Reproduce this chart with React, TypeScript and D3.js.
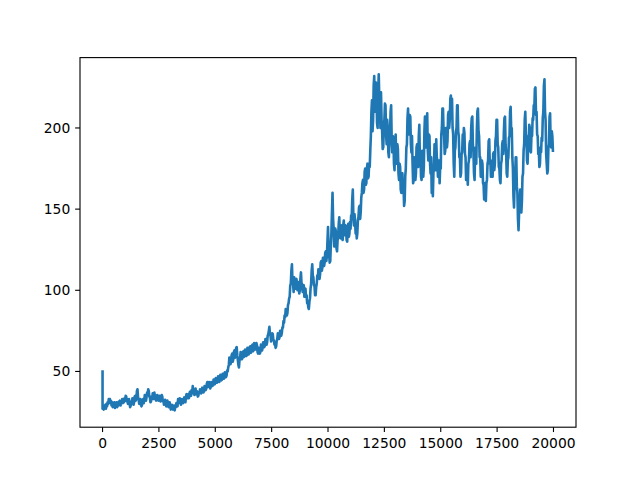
import React from "react";
import * as d3 from "d3";

const STEP = 25;
const LAST_INDEX = 19999;
const startValue = 50;
const xTicks = [0, 2500, 5000, 7500, 10000, 12500, 15000, 17500, 20000];
const yTicks = [50, 100, 150, 200];

const chunk00 = [27, 29, 26.5, 28.5, 27.5, 29.5, 27, 30, 28.5, 31, 30, 33, 31, 33, 30.5, 32, 29, 31, 28, 30.5, 29, 31, 27.5, 29.5, 28.5, 31, 28, 30.5, 29, 31.5, 30, 32, 29, 31.5, 30.5, 33, 30.5, 32.5, 31, 33.5];
const chunk01 = [32, 35, 34.5, 31.5, 33, 30, 31, 33, 30, 28, 29, 31.5, 30.5, 33.5, 32, 29.5, 31, 34.5, 35, 32, 33, 38, 39, 34, 33, 30, 30, 33, 31.5, 28.5, 29.5, 32.5, 33, 30.5, 32, 35.5, 35, 32, 34, 37];
const chunk02 = [36, 39, 38, 34.5, 34, 31, 31.5, 34.5, 33, 36.5, 35.5, 33, 37, 34, 35, 32, 33, 35.5, 34.5, 32, 32.5, 35, 34, 31.5, 33, 35.5, 34.5, 31.5, 32, 29.5, 30.5, 32.5, 31, 28.5, 29.5, 32, 30.5, 28, 29, 31];
const chunk03 = [28.5, 26.5, 27.5, 29.5, 28.5, 26.5, 27, 29, 26, 28.5, 28, 30.5, 30.5, 28.5, 33, 30.5, 31, 33.5, 32, 29.5, 30.5, 33, 32.5, 30.5, 31.5, 34, 33, 31, 34.5, 36, 33.5, 35.5, 36, 33.5, 34.5, 37.5, 37, 35, 38.5, 36.5];
const chunk04 = [41, 38, 38, 35.5, 37.5, 39.5, 36, 38, 37, 34.5, 35, 37.5, 36.5, 39, 38.5, 36.5, 37.5, 40, 39.5, 37, 38, 41, 40.5, 38.5, 39.5, 42.5, 43.5, 40.5, 41, 43.5, 42, 39.5, 40.5, 43.5, 43, 41, 42, 45, 45, 42];
const chunk05 = [43, 46, 45.5, 43, 44, 47, 46, 43.5, 44.5, 48, 47, 44.5, 45, 48.5, 48.5, 45.5, 46, 49.5, 49, 46.5, 47.5, 50.5, 50, 52.5, 54, 58.5, 58, 54.5, 56, 60, 61, 56, 57.5, 62, 63, 58.5, 60, 64.5, 65, 60];
const chunk06 = [57, 54, 52.5, 57, 58, 62, 61, 57.5, 58, 62, 62.5, 59, 59.5, 63.5, 63, 59.5, 60, 64.5, 64, 60.5, 61, 65, 65.5, 61.5, 62, 66, 66.5, 62.5, 63, 67.5, 67, 63.5, 64, 67.5, 66, 62, 61, 64.5, 64, 61];
const chunk07 = [62, 66.5, 66, 63, 64.5, 68, 68, 65, 66, 70, 70, 66.5, 68, 72, 73, 75, 77.5, 73, 72, 68.5, 70, 73.5, 73, 69.5, 69, 66.5, 67, 64.5, 65.5, 69, 70, 73.5, 73, 70, 71, 75, 75, 72, 73.5, 77];
const chunk08 = [77, 81, 80, 84.5, 83.5, 88.5, 88, 84.5, 86, 91, 92, 95, 96, 103, 104, 112, 116, 105, 104, 99, 108, 102, 101, 106, 107, 101, 100, 105, 105, 98, 100, 107, 111, 104, 104, 99, 99, 103, 96, 100];
const chunk09 = [101, 96, 97, 92, 93, 89.5, 88.5, 93, 95, 101, 104, 112, 116, 109, 108, 103, 103, 97, 97, 102, 104, 109, 108, 113, 112, 107, 110, 117, 118, 112, 114, 120, 120, 115, 117, 123, 124, 118, 121, 130];
const chunk10 = [139, 126, 122, 117, 118, 128, 135, 148, 160, 144, 138, 127, 128, 138, 136, 126, 124, 131, 133, 141, 145, 134, 132, 139, 140, 132, 131, 140, 143, 134, 134, 140, 139, 131, 130, 138, 141, 133, 135, 142];
const chunk11 = [138, 146, 144, 156, 162, 145, 140, 147, 143, 135, 138, 132, 135, 143, 145, 151, 152, 144, 148, 157, 160, 166, 168, 160, 162, 173, 175, 165, 166, 175, 178, 169, 170, 178, 176, 186, 195, 210, 217, 198];
const chunk12 = [205, 226, 232, 212, 210, 228, 220, 203, 200, 222, 233, 218, 215, 200, 222, 205, 198, 187, 188, 200, 205, 215, 214, 196, 190, 205, 200, 185, 182, 194, 196, 210, 214, 192, 185, 195, 194, 178, 174, 190];
const chunk13 = [196, 182, 178, 190, 187, 172, 168, 178, 176, 162, 160, 172, 172, 160, 163, 152, 155, 170, 175, 188, 190, 206, 212, 196, 198, 208, 207, 190, 185, 195, 178, 166, 168, 182, 180, 168, 172, 188, 190, 176];
const chunk14 = [176, 195, 202, 180, 185, 170, 168, 186, 182, 170, 176, 198, 207, 190, 188, 204, 209, 186, 180, 196, 195, 178, 172, 182, 160, 172, 158, 172, 178, 190, 186, 174, 193, 182, 180, 170, 170, 180, 166, 176];
const chunk15 = [175, 196, 200, 212, 212, 198, 195, 184, 186, 200, 200, 188, 192, 208, 210, 200, 205, 218, 220, 210, 218, 200, 196, 178, 170, 186, 188, 198, 200, 214, 214, 198, 195, 182, 182, 170, 172, 184, 185, 196];
const chunk16 = [190, 200, 197, 184, 182, 168, 170, 176, 165, 178, 180, 190, 192, 182, 200, 206, 207, 190, 185, 172, 168, 184, 188, 178, 198, 210, 212, 198, 195, 182, 182, 170, 170, 180, 178, 166, 165, 156, 158, 166];
const chunk17 = [155, 166, 168, 178, 180, 192, 193, 178, 180, 170, 172, 180, 170, 184, 185, 174, 178, 192, 195, 205, 205, 190, 188, 176, 175, 168, 166, 178, 180, 190, 192, 184, 198, 206, 207, 190, 185, 172, 170, 180];
const chunk18 = [182, 194, 195, 210, 213, 198, 200, 182, 175, 158, 151, 166, 170, 182, 182, 164, 160, 144, 137, 148, 150, 162, 160, 148, 155, 170, 172, 186, 190, 205, 210, 196, 195, 180, 178, 188, 190, 202, 200, 186];
const chunk19 = [185, 196, 195, 206, 205, 214, 212, 224, 225, 208, 210, 196, 195, 184, 186, 176, 178, 188, 185, 194, 192, 206, 210, 226, 230, 210, 205, 184, 178, 172, 174, 188, 190, 207, 209, 190, 188, 198, 195, 186];

const values: number[] = [
  ...chunk00, ...chunk01, ...chunk02, ...chunk03, ...chunk04,
  ...chunk05, ...chunk06, ...chunk07, ...chunk08, ...chunk09,
  ...chunk10, ...chunk11, ...chunk12, ...chunk13, ...chunk14,
  ...chunk15, ...chunk16, ...chunk17, ...chunk18, ...chunk19,
];

type Pt = { x: number; v: number };
const points: Pt[] = [
  { x: 0, v: startValue },
  ...values.map((v, i) => ({ x: Math.max(1, i * STEP), v })),
];

const W = 640, H = 480;
const L = 80, R = 576, T = 57.6, B = 427.2;

export default function App() {
  const xPad = LAST_INDEX * 0.05;
  const x = d3.scaleLinear().domain([-xPad, LAST_INDEX + xPad]).range([L, R]);
  const [ymin, ymax] = d3.extent(points, (p) => p.v) as [number, number];
  const yPad = (ymax - ymin) * 0.05;
  const y = d3.scaleLinear().domain([ymin - yPad, ymax + yPad]).range([B, T]);
  const line = d3
    .line<Pt>()
    .x((p) => x(p.x))
    .y((p) => y(p.v));
  const font = "DejaVu Sans, sans-serif";
  const tickLen = 4.86;
  return (
    <svg width={W} height={H} style={{ position: "absolute", left: 0, top: 0, background: "#fff" }}>
      <rect x={0} y={0} width={W} height={H} fill="#fff" />
      <defs>
        <clipPath id="plotclip">
          <rect x={L} y={T} width={R - L} height={B - T} />
        </clipPath>
      </defs>
      <path
        d={line(points) || ""}
        fill="none"
        stroke="#1f77b4"
        strokeWidth={2.6}
        strokeLinejoin="round"
        strokeLinecap="square"
        clipPath="url(#plotclip)"
      />
      <rect x={L} y={T} width={R - L} height={B - T} fill="none" stroke="#000" strokeWidth={1.11} />
      {xTicks.map((t) => (
        <g key={"x" + t}>
          <line x1={x(t)} x2={x(t)} y1={B} y2={B + tickLen} stroke="#000" strokeWidth={1.11} />
          <text x={x(t)} y={B + tickLen + 4.86 + 11} textAnchor="middle" fontFamily={font} fontSize={13.89} fill="#000">
            {t}
          </text>
        </g>
      ))}
      {yTicks.map((t) => (
        <g key={"y" + t}>
          <line x1={L - tickLen} x2={L} y1={y(t)} y2={y(t)} stroke="#000" strokeWidth={1.11} />
          <text x={L - tickLen - 4.86} y={y(t)} dy="0.35em" textAnchor="end" fontFamily={font} fontSize={13.89} fill="#000">
            {t}
          </text>
        </g>
      ))}
    </svg>
  );
}
